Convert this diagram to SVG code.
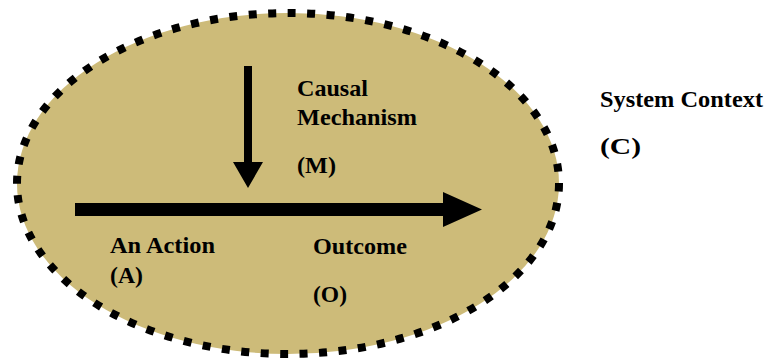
<svg xmlns="http://www.w3.org/2000/svg" width="766" height="362" viewBox="0 0 766 362">
<style>
.lbl{font-family:"Liberation Serif","Times New Roman",serif;font-weight:bold;font-size:23px;fill:#000}
.arrow{fill:#000}
</style>
<rect width="766" height="362" fill="#fff"/>
<g id="context">
<ellipse cx="288" cy="183.5" rx="271" ry="170.5" fill="#CDBB79" stroke="#000" stroke-width="8" stroke-dasharray="8 11.5"/>
<text class="lbl" x="600" y="107" textLength="163" lengthAdjust="spacingAndGlyphs">System Context</text>
<text class="lbl" x="600" y="154" textLength="41" lengthAdjust="spacingAndGlyphs">(C)</text>
</g>
<g id="mechanism">
<text class="lbl" x="297" y="96" textLength="71" lengthAdjust="spacingAndGlyphs">Causal</text>
<text class="lbl" x="297" y="125" textLength="120" lengthAdjust="spacingAndGlyphs">Mechanism</text>
<text class="lbl" x="297" y="173" textLength="39" lengthAdjust="spacingAndGlyphs">(M)</text>
</g>
<g id="action">
<text class="lbl" x="110" y="253" textLength="105" lengthAdjust="spacingAndGlyphs">An Action</text>
<text class="lbl" x="110" y="283" textLength="33" lengthAdjust="spacingAndGlyphs">(A)</text>
</g>
<g id="outcome">
<text class="lbl" x="313" y="254" textLength="94" lengthAdjust="spacingAndGlyphs">Outcome</text>
<text class="lbl" x="313" y="302" textLength="34" lengthAdjust="spacingAndGlyphs">(O)</text>
</g>
<g id="connectors">
<polygon class="arrow" points="75,203 443,203 443,192 482,209.5 443,227 443,216 75,216"/>
<polygon class="arrow" points="244,66 252,66 252,162 263,162 248,188 233,162 244,162"/>
</g>
</svg>
